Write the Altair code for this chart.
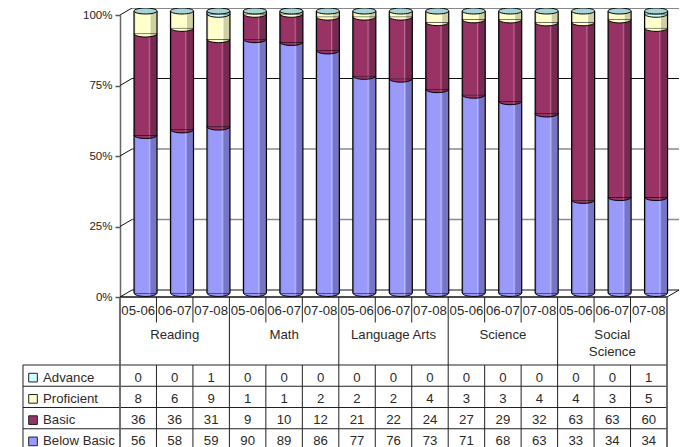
import altair as alt
import pandas as pd

subjects = ["Reading", "Math", "Language Arts", "Science", "Social\nScience"]
years = ["05-06", "06-07", "07-08"]
series = ["Below Basic", "Basic", "Proficient", "Advance"]
below_basic = [56, 58, 59, 90, 89, 86, 77, 76, 73, 71, 68, 63, 33, 34, 34]
basic = [36, 36, 31, 9, 10, 12, 21, 22, 24, 27, 29, 32, 63, 63, 60]
proficient = [8, 6, 9, 1, 1, 2, 2, 2, 4, 3, 3, 4, 4, 3, 5]
advance = [0, 0, 1, 0, 0, 0, 0, 0, 0, 0, 0, 0, 0, 0, 1]
pct_ticks = [0, 25, 50, 75, 100]
legend_colors = ["#9999FF", "#993366", "#FFFFCC", "#CCFFFF"]
shades = [
    ("#7A7AD6", "#9A9AFA", "#B8B8FF", "#7676C4"),
    ("#742650", "#993366", "#BC6A92", "#752A50"),
    ("#D8D8AC", "#FFFFCC", "#FFFFE8", "#CFCFA4"),
    ("#A8D8D8", "#CCFFFF", "#E6FFFF", "#A8D8D8"),
]
values = [below_basic, basic, proficient, advance]
n = len(below_basic)

# table row order, top to bottom
row_order = ["Advance", "Proficient", "Basic", "Below Basic"]

# geometry of the drawing, in the scales' own units
BAR_W, DX, DY = 23, 12, -7
LEFT, LEG_K, LEG_T = -2.66, -2.385, -2.11
HDR_TOP, YEAR_BOT, YEAR_TXT, CAT_TXT = -3.2, -2.0, -2.59, -1.76
XS = alt.Scale(domain=[0, 15], range=[112, 659], padding=0)
PS = alt.Scale(domain=[0, 100], range=[289, 7])
BS = alt.Scale(domain=[0, 100], range=[285, 3])
TS = alt.Scale(domain=[0, 4], range=[357, 442])
FONT = "Liberation Sans"

def grad(s):
    a, b, c, d = s
    return alt.Gradient(
        gradient="linear", x1=0, x2=1, y1=0, y2=0,
        stops=[
            alt.GradientStop(offset=0, color=a),
            alt.GradientStop(offset=0.1, color=b),
            alt.GradientStop(offset=0.62, color=b),
            alt.GradientStop(offset=0.66, color=c),
            alt.GradientStop(offset=0.7, color=b),
            alt.GradientStop(offset=0.74, color=d),
            alt.GradientStop(offset=1, color=d),
        ],
    )

HALF = "M-1,0 A1,0.3 0 0 0 1,0 Z"
FULL = "M-1,0 A1,0.26 0 0 0 1,0 A1,0.26 0 0 0 -1,0 Z"

seg = []
for i in range(n):
    tot = sum(v[i] for v in values)
    c = 0
    for s, v in zip(series, values):
        seg.append(dict(i=i + 0.5, s=s, y0=100 * c / tot, y1=100 * (c + v[i]) / tot, v=v[i]))
        c += v[i]
seg = pd.DataFrame(seg)
slots = pd.DataFrame(dict(i=[k + 0.5 for k in range(n)], t=100, b=0))

X = lambda f: alt.X(f, scale=XS, axis=None)
layers = []

# walls
walls = pd.DataFrame(dict(p=pct_ticks, a=0, z=15))
layers.append(
    alt.Chart(walls).mark_rule(color="#000000", strokeWidth=1, opacity=0, xOffset=0).encode(
        x=X("a:Q"),
        y=alt.Y("p:Q", scale=PS, axis=alt.Axis(
            orient="left", offset=-112, values=pct_ticks, title=None, grid=False,
            labelExpr="datum.value + '%'", labelFont=FONT, labelFontSize=11.5, labelColor="#222222",
            tickColor="#555555", tickSize=5, tickWidth=1.5, domainColor="#666666", domainWidth=1.5,
            labelPadding=3)),
    )
)
for_back = walls[walls.p.isin([25, 50])]
for d, col, w in [(walls[walls.p.isin([0, 75, 100])], "#111111", 1), (for_back, "#8A8A8A", 1.6)]:
    layers.append(
        alt.Chart(d).mark_rule(color=col, strokeWidth=w, xOffset=DX, x2Offset=DX).encode(
            x=X("a:Q"), x2="z:Q", y=alt.Y("p:Q", scale=alt.Scale(domain=[0, 100], range=[282, 0]), axis=None)
        )
    )
layers.append(
    alt.Chart(walls).mark_rule(color="#111111", strokeWidth=1, x2Offset=DX, y2Offset=DY).encode(
        x=X("a:Q"), x2="a:Q", y=alt.Y("p:Q", scale=PS, axis=None), y2="p:Q"
    )
)
floor = pd.DataFrame(dict(a=[15], p=[0]))
layers.append(
    alt.Chart(floor).mark_rule(color="#111111", strokeWidth=1, x2Offset=DX, y2Offset=DY).encode(
        x=X("a:Q"), x2="a:Q", y=alt.Y("p:Q", scale=PS, axis=None), y2="p:Q"
    )
)
layers.append(
    alt.Chart(pd.DataFrame(dict(a=[0], z=[15], p=[0]))).mark_rule(color="#111111", strokeWidth=1.5).encode(
        x=X("a:Q"), x2="z:Q", y=alt.Y("p:Q", scale=PS, axis=None)
    )
)

# cylinders
for s, sh in zip(series, shades):
    d = seg[(seg.s == s) & (seg.v > 0)]
    layers.append(
        alt.Chart(d).mark_point(
            shape=HALF, filled=True, fill=grad(sh), stroke="#000000", strokeWidth=1, opacity=1,
            size=BAR_W ** 2, xOffset=DX / 2 + 1.3,
        ).encode(x=X("i:Q"), y=alt.Y("y0:Q", scale=BS, axis=None))
    )
    layers.append(
        alt.Chart(d).mark_bar(size=BAR_W, xOffset=DX / 2 + 1.3, fill=grad(sh)).encode(
            x=X("i:Q"), y=alt.Y("y0:Q", scale=BS, axis=None), y2="y1:Q"
        )
    )
for off in (-BAR_W / 2, BAR_W / 2):
    layers.append(
        alt.Chart(slots).mark_rule(color="#000000", strokeWidth=1.2, xOffset=DX / 2 + 1.3 + off).encode(
            x=X("i:Q"), y=alt.Y("b:Q", scale=BS, axis=None), y2="t:Q"
        )
    )
layers.append(
    alt.Chart(slots).mark_point(
        shape=FULL, filled=True, fill="#A9D4D6", stroke="#000000", strokeWidth=1, opacity=1,
        size=BAR_W ** 2, xOffset=DX / 2 + 1.3,
    ).encode(x=X("i:Q"), y=alt.Y("t:Q", scale=BS, axis=None))
)

# table rules
h = pd.DataFrame(dict(r=[0, 1, 2, 3, 4], a=LEFT, z=15))
layers.append(
    alt.Chart(h).mark_rule(color="#222222", strokeWidth=1).encode(
        x=X("a:Q"), x2="z:Q", y=alt.Y("r:Q", scale=TS, axis=None)
    )
)
v_rows = [dict(x=k, a=(HDR_TOP if k % 3 == 0 else 0), z=4) for k in range(n + 1)]
v_rows += [dict(x=k, a=HDR_TOP, z=YEAR_BOT) for k in range(n) if k % 3]
v_rows += [dict(x=LEFT, a=0, z=4)]
layers.append(
    alt.Chart(pd.DataFrame(v_rows)).mark_rule(color="#222222", strokeWidth=1).encode(
        x=X("x:Q"), y=alt.Y("a:Q", scale=TS, axis=None), y2="z:Q"
    )
)
layers.append(
    alt.Chart(pd.DataFrame(dict(x=[0, 15], a=HDR_TOP, z=4))).mark_rule(color="#666666", strokeWidth=1.5).encode(
        x=X("x:Q"), y=alt.Y("a:Q", scale=TS, axis=None), y2="z:Q"
    )
)

# table text
txt = dict(font=FONT, fontSize=13.2, color="#2A2A2A")
yrs = pd.DataFrame(dict(i=[k + 0.5 for k in range(n)], t=[years[k % 3] for k in range(n)], r=YEAR_TXT))
layers.append(
    alt.Chart(yrs).mark_text(dy=1, **txt).encode(x=X("i:Q"), y=alt.Y("r:Q", scale=TS, axis=None), text="t:N")
)
cats = pd.DataFrame(dict(i=[1.5, 4.5, 7.5, 10.5, 13.5], t=subjects, r=CAT_TXT))
layers.append(
    alt.Chart(cats).mark_text(baseline="top", lineBreak="\n", lineHeight=17.5, dy=1, **txt).encode(
        x=X("i:Q"), y=alt.Y("r:Q", scale=TS, axis=None), text="t:N"
    )
)
cells = []
for ri, name in enumerate(row_order):
    v = values[series.index(name)]
    cells += [dict(i=k + 0.5, r=ri + 0.5, t=str(v[k])) for k in range(n)]
layers.append(
    alt.Chart(pd.DataFrame(cells)).mark_text(dy=2, **txt).encode(
        x=X("i:Q"), y=alt.Y("r:Q", scale=TS, axis=None), text="t:N"
    )
)
leg = pd.DataFrame(dict(
    r=[k + 0.5 for k in range(4)], t=row_order,
    c=[legend_colors[series.index(nm)] for nm in row_order], kx=LEG_K, tx=LEG_T,
))
layers.append(
    alt.Chart(leg).mark_text(align="left", dy=2, **txt).encode(
        x=X("tx:Q"), y=alt.Y("r:Q", scale=TS, axis=None), text="t:N"
    )
)
layers.append(
    alt.Chart(leg).mark_point(shape="square", filled=True, size=75, stroke="#222222", strokeWidth=1, opacity=1, yOffset=2).encode(
        x=X("kx:Q"), y=alt.Y("r:Q", scale=TS, axis=None),
        fill=alt.Fill("c:N", scale=None, legend=None),
    )
)

chart = (
    alt.layer(*layers)
    .resolve_scale(y="independent")
    .properties(width=675, height=439, padding=0, autosize=alt.AutoSizeParams(type="none"))
    .configure_view(stroke=None)
)
chart.save("out.html", embed_options={"renderer": "svg", "actions": False})
